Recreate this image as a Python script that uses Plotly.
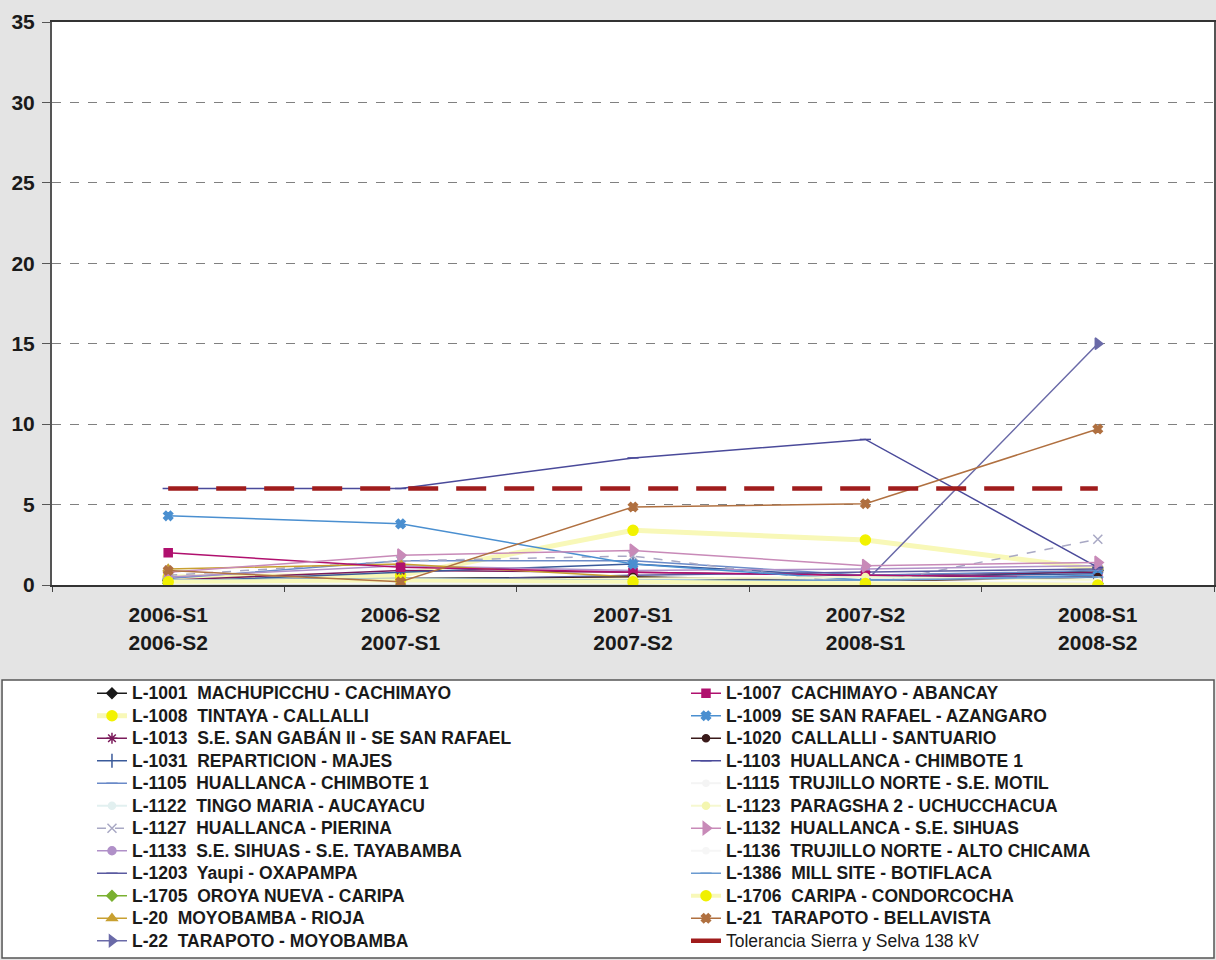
import plotly.graph_objects as go

periods = ["2006-S1<br>2006-S2", "2006-S2<br>2007-S1", "2007-S1<br>2007-S2",
           "2007-S2<br>2008-S1", "2008-S1<br>2008-S2"]

names_left = [
    "L-1001\u00a0 MACHUPICCHU - CACHIMAYO",
    "L-1008\u00a0 TINTAYA - CALLALLI",
    "L-1013\u00a0 S.E. SAN GABÁN II - SE SAN RAFAEL",
    "L-1031\u00a0 REPARTICION - MAJES",
    "L-1105\u00a0 HUALLANCA - CHIMBOTE 1",
    "L-1122\u00a0 TINGO MARIA - AUCAYACU",
    "L-1127\u00a0 HUALLANCA - PIERINA",
    "L-1133\u00a0 S.E. SIHUAS - S.E. TAYABAMBA",
    "L-1203\u00a0 Yaupi - OXAPAMPA",
    "L-1705\u00a0 OROYA NUEVA - CARIPA",
    "L-20\u00a0 MOYOBAMBA - RIOJA",
    "L-22\u00a0 TARAPOTO - MOYOBAMBA",
]
names_right = [
    "L-1007\u00a0 CACHIMAYO - ABANCAY",
    "L-1009\u00a0 SE SAN RAFAEL - AZANGARO",
    "L-1020\u00a0 CALLALLI - SANTUARIO",
    "L-1103\u00a0 HUALLANCA - CHIMBOTE 1",
    "L-1115\u00a0 TRUJILLO NORTE - S.E. MOTIL",
    "L-1123\u00a0 PARAGSHA 2 - UCHUCCHACUA",
    "L-1132\u00a0 HUALLANCA - S.E. SIHUAS",
    "L-1136\u00a0 TRUJILLO NORTE - ALTO CHICAMA",
    "L-1386\u00a0 MILL SITE - BOTIFLACA",
    "L-1706\u00a0 CARIPA - CONDORCOCHA",
    "L-21\u00a0 TARAPOTO - BELLAVISTA",
    "Tolerancia Sierra y Selva 138 kV",
]

# values per line (one value per period)
v_l1001 = [0.3, 0.4, 0.5, 0.3, 0.9]
v_l1008 = [0.5, 0.6, 3.4, 2.8, 1.0]
v_l1013 = [0.3, 0.9, 0.8, 0.6, 0.8]
v_l1031 = [0.2, 0.8, 1.3, 0.5, 0.7]
v_l1105 = [0.4, 1.5, 1.5, 0.6, 0.9]
v_l1122 = [0.2, 0.2, 0.3, 0.4, 0.4]
v_l1127 = [0.6, 1.5, 1.8, 0.0, 2.85]
v_l1133 = [0.5, 1.2, 0.9, 1.0, 1.2]
v_l1203 = [0.2, 0.3, 0.6, 0.8, 1.0]
v_l1705 = [0.1, 0.1, 0.1, 0.1, 0.1]
v_l20 = [1.0, 1.3, 0.5, 0.2, 0.1]
v_l22 = [0.1, 0.1, 0.1, 0.2, 15.0]

v_l1007 = [2.0, 1.1, 0.8, 0.6, 0.5]
v_l1009 = [4.3, 3.8, 1.3, 0.3, 0.6]
v_l1020 = [0.2, 0.3, 0.5, 0.2, 0.5]
v_l1103 = [6.0, 6.0, 7.9, 9.05, 1.1]
v_l1115 = [0.1, 0.1, 0.1, 0.1, 0.1]
v_l1123 = [0.3, 0.3, 0.4, 0.5, 0.3]
v_l1132 = [0.8, 1.85, 2.15, 1.2, 1.4]
v_l1136 = [0.1, 0.2, 0.2, 0.2, 0.2]
v_l1386 = [0.3, 0.4, 0.3, 0.3, 0.5]
v_l1706 = [0.2, 0.3, 0.2, 0.1, 0.0]
v_l21 = [0.9, 0.2, 4.85, 5.05, 9.7]
v_tol = [6.0, 6.0, 6.0, 6.0, 6.0]

values_left = [v_l1001, v_l1008, v_l1013, v_l1031, v_l1105, v_l1122,
               v_l1127, v_l1133, v_l1203, v_l1705, v_l20, v_l22]
values_right = [v_l1007, v_l1009, v_l1020, v_l1103, v_l1115, v_l1123,
                v_l1132, v_l1136, v_l1386, v_l1706, v_l21, v_tol]

# (line color, line width, dash, marker symbol, marker color, marker size)
styles_left = [
    ("#1a1a1a", 1.5, "solid", "diamond", "#1a1a1a", 8),
    ("#f8f8b8", 5, "solid", "circle", "#f2f200", 10),
    ("#7a1a5a", 1.5, "solid", "asterisk-open", "#7a1a5a", 9),
    ("#3a5a9a", 1.5, "solid", "line-ns-open", "#3a5a9a", 10),
    ("#6a8ac8", 1.5, "solid", "line-ew-open", "#6a8ac8", 8),
    ("#e2f0f0", 2, "solid", "circle", "#e2f0f0", 7),
    ("#a8a8c4", 1.5, "dash", "x-thin-open", "#a8a8c4", 9),
    ("#b090c8", 1.5, "solid", "circle", "#b090c8", 8),
    ("#5a5aa0", 1.5, "solid", "line-ew-open", "#5a5aa0", 8),
    ("#7ab030", 1.5, "solid", "diamond", "#7ab030", 8),
    ("#c8a030", 1.5, "solid", "triangle-up", "#c8a030", 9),
    ("#6a6aa8", 1.5, "solid", "triangle-right", "#6a6aa8", 10),
]
styles_right = [
    ("#b0106e", 1.5, "solid", "square", "#b0106e", 8),
    ("#4a8fd0", 1.5, "solid", "x", "#4a8fd0", 8),
    ("#3a1a1a", 1.5, "solid", "circle", "#3a1a1a", 7),
    ("#4a4a9a", 1.5, "solid", "line-ew-open", "#4a4a9a", 8),
    ("#f4f4f4", 2, "solid", "circle", "#f4f4f4", 6),
    ("#f6f8d0", 2, "solid", "circle", "#f4f6b0", 7),
    ("#c88ab8", 1.5, "solid", "triangle-right", "#c88ab8", 11),
    ("#f6f6f6", 2, "solid", "circle", "#f6f6f6", 6),
    ("#6a9ad0", 1.5, "solid", "line-ew-open", "#6a9ad0", 8),
    ("#f8f8b8", 4, "solid", "circle", "#f0f000", 10),
    ("#b07040", 1.5, "solid", "x", "#b07040", 8),
    ("#a01c1c", 4.5, "30px,18px", None, None, 0),
]

fig = go.Figure()


def add_series(name, vals, st, legend, bold=True):
    lc, lw, dash, sym, mc, ms = st
    kw = {}
    if sym is None:
        mode = "lines"
    else:
        mode = "lines+markers"
        kw["marker"] = dict(symbol=sym, color=mc, size=ms,
                            line=dict(color=mc, width=1.5))
    weight = "bold" if bold else "normal"
    label = ("<span style='font-size:17.5px;font-weight:%s'>%s</span>"
             % (weight, name))
    fig.add_trace(go.Scatter(
        x=periods, y=vals, name=label, mode=mode,
        line=dict(color=lc, width=lw, dash=dash),
        legend=legend, hoverinfo="x+y", **kw))


for n, v, s in zip(names_left, values_left, styles_left):
    add_series(n, v, s, "legend")
for n, v, s in zip(names_right, values_right, styles_right):
    add_series(n, v, s, "legend2", bold=not n.startswith("Tolerancia"))

font_family = "Arial, 'Liberation Sans', sans-serif"

fig.update_layout(
    width=1216, height=960,
    margin=dict(l=52, r=2, t=22, b=375, autoexpand=False),
    paper_bgcolor="#e4e4e4",
    plot_bgcolor="#ffffff",
    font=dict(family=font_family, color="#1a1a1a"),
    showlegend=True,
    legend=dict(
        x=0.0344, y=-0.1634, xanchor="left", yanchor="top",
        xref="paper", yref="paper", orientation="v",
        bgcolor="rgba(0,0,0,0)",
        font=dict(family=font_family, size=15, color="#1a1a1a", weight="bold"),
        traceorder="normal",
    ),
    legend2=dict(
        x=0.5456, y=-0.1634, xanchor="left", yanchor="top",
        xref="paper", yref="paper", orientation="v",
        bgcolor="rgba(0,0,0,0)",
        font=dict(family=font_family, size=15, color="#1a1a1a", weight="bold"),
        traceorder="normal",
    ),
    shapes=[dict(
        type="rect", xref="paper", yref="paper",
        x0=-0.043, x1=1.0, y0=-0.6625, y1=-0.1687,
        fillcolor="#ffffff", line=dict(color="#555555", width=1.5),
        layer="below",
    )],
)

fig.update_xaxes(
    type="category", range=[-0.5, 4.5],
    showline=True, linecolor="#333333", linewidth=2, mirror=True,
    showgrid=False,
    ticks="outside", tickson="boundaries", ticklen=5, tickcolor="#444444",
    tickfont=dict(family=font_family, size=21, color="#1a1a1a", weight="bold"),
    ticklabelstandoff=10,
)
fig.update_yaxes(
    range=[0, 35], dtick=5, tick0=0,
    showline=True, linecolor="#555555", linewidth=2, mirror=True,
    showgrid=True, gridcolor="#808080", gridwidth=1, griddash="dash",
    zeroline=False,
    ticks="outside", ticklen=8, tickcolor="#555555",
    tickfont=dict(family=font_family, size=21, color="#1a1a1a", weight="bold"),
    ticklabelstandoff=3,
)

fig.write_html("out.html",
               config={"displayModeBar": False},
               post_script="document.body.style.margin='0px';")
